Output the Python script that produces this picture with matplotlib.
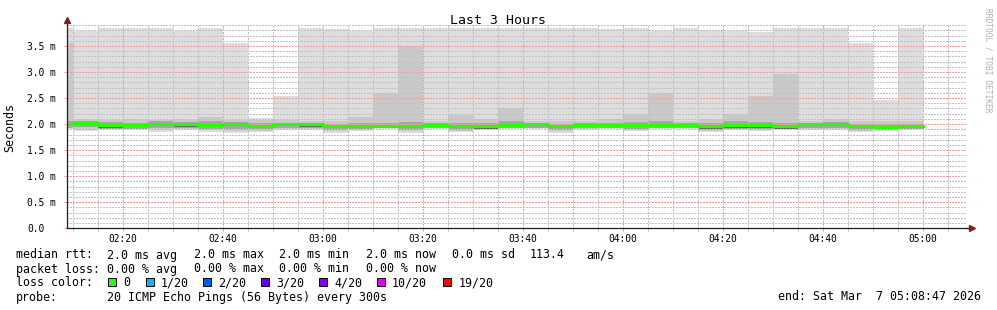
import matplotlib
matplotlib.use("Agg")
import matplotlib.pyplot as plt
from matplotlib.patches import Rectangle
from matplotlib.ticker import FixedLocator, MultipleLocator
import numpy as np

W, H = 997, 310

# ---------------- data ----------------
# bar start times in minutes after midnight (02:05 ... 04:55), each 5 min long
bar_start = [125, 130, 135, 140, 145, 150, 155, 160, 165, 170, 175, 180, 185, 190, 195,
             200, 205, 210, 215, 220, 225, 230, 235, 240, 245, 250, 255, 260, 265, 270,
             275, 280, 285, 290, 295]
p_max = [3.84, 3.78, 3.84, 3.84, 3.84, 3.79, 3.84, 3.56, 2.12, 2.53, 3.84, 3.82, 3.78, 3.84, 3.84,
         3.84, 3.84, 3.84, 3.84, 3.84, 3.84, 3.84, 3.83, 3.84, 3.78, 3.84, 3.81, 3.78, 3.76, 3.84,
         3.84, 3.84, 3.55, 2.46, 3.84]
p_high = [3.56, 2.09, 2.08, 2.09, 2.08, 2.10, 2.14, 2.07, 2.08, 2.07, 2.06, 2.06, 2.13, 2.59, 3.50,
          2.05, 2.17, 2.09, 2.30, 2.06, 2.05, 2.05, 2.09, 2.20, 2.59, 2.05, 2.10, 2.19, 2.53, 2.97,
          2.06, 2.10, 2.06, 2.05, 2.05]
p_q3 = [2.05, 2.06, 2.04, 2.03, 2.05, 2.04, 2.05, 2.04, 2.02, 2.03, 2.03, 2.01, 2.03, 2.03, 2.04,
        2.02, 2.02, 2.02, 2.05, 2.03, 2.01, 2.02, 2.03, 2.04, 2.05, 2.02, 2.02, 2.05, 2.04, 2.02,
        2.03, 2.04, 2.01, 2.00, 2.01]
median = [2.00, 2.03, 1.98, 1.98, 2.01, 2.00, 1.99, 2.00, 1.97, 2.00, 2.00, 1.96, 1.97, 1.97, 1.97,
          1.98, 1.96, 1.96, 1.98, 2.00, 1.97, 1.99, 1.98, 1.98, 1.98, 1.99, 1.96, 1.98, 1.98, 1.96,
          2.00, 2.00, 1.96, 1.95, 1.96]
p_dark = [1.96, 1.98, 1.93, 1.94, 1.97, 1.95, 1.95, 1.96, 1.92, 1.96, 1.95, 1.92, 1.93, 1.93, 1.92,
          1.94, 1.92, 1.91, 1.94, 1.96, 1.93, 1.95, 1.94, 1.94, 1.94, 1.95, 1.91, 1.93, 1.92, 1.91,
          1.96, 1.96, 1.92, 1.91, 1.92]
p_q1 = [1.93, 1.94, 1.91, 1.91, 1.92, 1.92, 1.91, 1.90, 1.90, 1.92, 1.92, 1.89, 1.90, 1.92, 1.89,
        1.92, 1.89, 1.90, 1.92, 1.93, 1.89, 1.92, 1.92, 1.91, 1.92, 1.93, 1.89, 1.91, 1.91, 1.92,
        1.93, 1.92, 1.89, 1.89, 1.91]
p_low = [1.92, 1.89, 1.92, 1.92, 1.88, 1.90, 1.88, 1.86, 1.87, 1.90, 1.90, 1.86, 1.89, 1.92, 1.86,
         1.92, 1.87, 1.90, 1.92, 1.92, 1.86, 1.90, 1.92, 1.89, 1.92, 1.92, 1.87, 1.90, 1.89, 1.92,
         1.91, 1.90, 1.87, 1.88, 1.92]
p_min = [1.90, 1.87, 1.90, 1.90, 1.85, 1.88, 1.85, 1.83, 1.85, 1.88, 1.88, 1.83, 1.87, 1.90, 1.83,
         1.90, 1.84, 1.88, 1.90, 1.90, 1.82, 1.88, 1.90, 1.87, 1.90, 1.90, 1.84, 1.88, 1.87, 1.90,
         1.89, 1.88, 1.84, 1.86, 1.90]

x_start, x_end = 128.783, 308.783          # 02:08:47 .. 05:08:47
major_ticks = [140, 160, 180, 200, 220, 240, 260, 280, 300]
major_labels = ["02:20", "02:40", "03:00", "03:20", "03:40", "04:00", "04:20", "04:40", "05:00"]
y_ticks = [0.0, 0.5, 1.0, 1.5, 2.0, 2.5, 3.0, 3.5]
y_labels = ["0.0", "0.5 m", "1.0 m", "1.5 m", "2.0 m", "2.5 m", "3.0 m", "3.5 m"]
y_top = 3.9

title = "Last 3 Hours"
ylabel = "Seconds"
rtt_label = "median rtt:"
rtt_items = ["2.0 ms avg", "2.0 ms max", "2.0 ms min", "2.0 ms now", "0.0 ms sd", "113.4", "am/s"]
loss_label = "packet loss:"
loss_items = ["0.00 % avg", "0.00 % max", "0.00 % min", "0.00 % now"]
color_label = "loss color:"
loss_names = ["0", "1/20", "2/20", "3/20", "4/20", "10/20", "19/20"]
loss_colors = ["#26ff00", "#00b8ff", "#0059ff", "#5e00ff", "#7e00ff", "#dd00ff", "#ff0000"]
probe_label = "probe:"
probe_text = "20 ICMP Echo Pings (56 Bytes) every 300s"
end_text = "end: Sat Mar  7 05:08:47 2026"
watermark = "RRDTOOL / TOBI OETIKER"

# ---------------- figure ----------------
MONO = "DejaVu Sans Mono"
plt.rcParams["font.family"] = [MONO]
plt.rcParams["lines.scale_dashes"] = False
fig = plt.figure(figsize=(W / 100, H / 100), dpi=100)
fig.patch.set_facecolor("white")

def fx(px):
    return px / W

def fy(py):
    return 1 - py / H

ppm = 52.1  # pixels per ms
ax_left, ax_bottom = 67, 228.3
ax_w = 900
ax_h = y_top * ppm
ax = fig.add_axes([fx(ax_left), fy(ax_bottom), ax_w / W, ax_h / H])
ax.set_facecolor("white")
ax.set_xlim(x_start, x_end)
ax.set_ylim(0, y_top)

xs = np.array(bar_start)
def band(lo, hi, color):
    lo = np.array(lo); hi = np.array(hi)
    ax.bar(xs, hi - lo, bottom=lo, width=5, align="edge", color=color,
           linewidth=0, zorder=1)

band(p_min, p_max, "#dddddd")
band(p_low, p_high, "#c9c9c9")
band(p_q1, p_q3, "#a6a6a6")
band(p_dark, median, "#6c6c6c")

# median line
mx = list(bar_start) + [bar_start[-1] + 5]
my = list(median) + [median[-1]]
ax.step(mx, my, where="post", color="#26ff00", linewidth=2.16, zorder=4)

# grid
ax.xaxis.set_major_locator(FixedLocator(major_ticks))
ax.xaxis.set_minor_locator(MultipleLocator(5))
ax.set_xticklabels(major_labels)
ax.set_yticks(y_ticks)
ax.set_yticklabels(y_labels)
ax.yaxis.set_minor_locator(MultipleLocator(0.1))

ax.set_axisbelow(False)
minor_c = "#c2c2c2"
major_c = "#f0a0a0"
dash = (0, (1.08, 1.08))
ax.grid(which="minor", color=minor_c, linestyle=dash, linewidth=0.72, zorder=3,
        antialiased=False, alpha=1.0)
ax.grid(which="major", color=major_c, linestyle=dash, linewidth=0.72, zorder=3,
        antialiased=False, alpha=1.0)

for s in ["top", "right"]:
    ax.spines[s].set_visible(False)
for s in ["left", "bottom"]:
    ax.spines[s].set_color("#1f1f1f")
    ax.spines[s].set_linewidth(0.9)
    ax.spines[s].set_zorder(5)
ax.spines["left"].set_bounds(0, y_top + 0.06)

ax.tick_params(axis="x", which="major", length=2, width=0.72, color=major_c,
               labelsize=6.9, pad=2.2, labelcolor="#000000")
ax.tick_params(axis="x", which="minor", length=2, width=0.72, color=minor_c)
ax.tick_params(axis="y", which="major", length=2, width=0.72, color=major_c,
               labelsize=6.9, pad=26.6, labelcolor="#000000")
ax.tick_params(axis="y", which="minor", length=0)
for lab in ax.get_yticklabels():
    lab.set_horizontalalignment("left")

# arrows
ax.plot([1.0 + 5 / ax_w], [0], marker=">", markersize=5, color="#801f1f",
        transform=ax.transAxes, clip_on=False, zorder=6)
ax.plot([0], [1.0 + 5 / ax_h], marker="^", markersize=5, color="#801f1f",
        transform=ax.transAxes, clip_on=False, zorder=6)
ax.plot([1.0, 1.0 + 3 / ax_w], [0, 0], color="#1f1f1f", linewidth=0.9,
        transform=ax.transAxes, clip_on=False, zorder=5)

# texts
fig.text(fx(497.5), fy(24), title, ha="center", va="baseline", fontsize=9.5, family=MONO)
fig.text(fx(10), fy(127), ylabel, ha="center", va="center", rotation=90, fontsize=8.4, family=MONO)
fig.text(fx(987.5), fy(60), watermark, ha="center", va="center", rotation=270,
         fontsize=5.7, family=MONO, color="#b0b0b0")

fs = 8.4
row_base = [258.5, 272.5, 286.5, 300.5]
fig.text(fx(16), fy(row_base[0]), rtt_label, ha="left", va="baseline", fontsize=fs)
rtt_x = [107.3, 194, 279.3, 365.7, 451.7, 530, 586.7]
for t, px in zip(rtt_items, rtt_x):
    fig.text(fx(px), fy(row_base[0]), t, ha="left", va="baseline", fontsize=fs)

fig.text(fx(16), fy(row_base[1]), loss_label, ha="left", va="baseline", fontsize=fs)
for t, px in zip(loss_items, rtt_x[:4]):
    fig.text(fx(px), fy(row_base[1]), t, ha="left", va="baseline", fontsize=fs)

fig.text(fx(16), fy(row_base[2]), color_label, ha="left", va="baseline", fontsize=fs)
sq_x = [108.3, 145.7, 203.3, 261, 319, 376.7, 443.3]
for name, col, px in zip(loss_names, loss_colors, sq_x):
    fig.add_artist(Rectangle((fx(px), fy(286)), 8 / W, 8 / H, transform=fig.transFigure,
                             facecolor=col, edgecolor="#000000", linewidth=0.7))
    fig.text(fx(px + 15), fy(row_base[2]), name, ha="left", va="baseline", fontsize=fs)

fig.text(fx(16), fy(row_base[3]), probe_label, ha="left", va="baseline", fontsize=fs)
fig.text(fx(107.3), fy(row_base[3]), probe_text, ha="left", va="baseline", fontsize=fs)
fig.text(fx(981), fy(row_base[3]), end_text, ha="right", va="baseline", fontsize=fs)

fig.savefig("out.png", dpi=100, facecolor="white")
